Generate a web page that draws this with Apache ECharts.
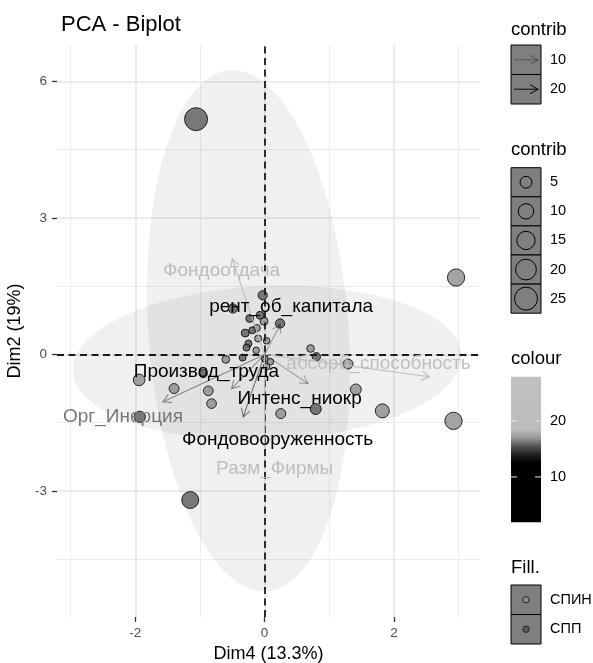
<!DOCTYPE html>
<html><head><meta charset="utf-8">
<script src="https://cdn.jsdelivr.net/npm/echarts@6/dist/echarts.min.js"></script>
<style>html,body{margin:0;padding:0;background:#fff}#c{width:593px;height:663px}</style>
</head><body><div id="c"></div>
<script>
const FONT = '"Liberation Sans", Arial, Helvetica, sans-serif';

// ---------- individuals ----------
const indX = [2.96, 2.92, 1.82, 1.41, 1.29, 0.71, 0.25, -0.01, -0.12, -0.10, 0.03, -0.13, -0.60, 0.00, 0.09, 0.03, -1.94, -1.40, -0.87, -0.82,
              -1.06, -1.15, 0.80, 0.79, -0.03, 0.24, -0.49, -0.23, -0.07, -0.30, -0.19, -0.25, -0.28, -0.34, -1.93, -0.95];
const indY = [1.69, -1.46, -1.24, -0.77, -0.21, 0.13, -1.30, 0.73, 0.58, 0.35, 0.30, 0.09, -0.11, -0.10, -0.16, -0.27, -0.56, -0.75, -0.80, -1.08,
              5.17, -3.20, -0.05, -1.20, 1.30, 0.68, 1.01, 0.79, 0.86, 0.47, 0.53, 0.24, 0.15, -0.07, -1.37, -0.42];
const indContrib = [13.2, 13.2, 7.9, 4.0, 2.9, 0.8, 2.9, 1.0, 0.3, 0.3, 0, 0, 0.8, 0, 0, 0, 4.8, 2.9, 2.6, 2.6,
                    25, 12.6, 1.3, 4.0, 2.2, 2.2, 2.2, 1.0, 1.0, 1.0, 0.3, 0.3, 0.3, 0.3, 4.3, 1.3];
const indGroup = ['СПИН','СПИН','СПИН','СПИН','СПИН','СПИН','СПИН','СПИН','СПИН','СПИН','СПИН','СПИН','СПИН','СПИН','СПИН','СПИН','СПИН','СПИН','СПИН','СПИН',
                  'СПП','СПП','СПП','СПП','СПП','СПП','СПП','СПП','СПП','СПП','СПП','СПП','СПП','СПП','СПП','СПП'];

// ---------- variables ----------
const varNames = ['Фондоотдача','рент_об_капитала','Производ_труда','абсорб_способность','Орг_Инерция','Интенс_ниокр','Фондовооруженность','Разм_Фирмы'];
const varX = [-0.50, 0.24, -0.51, 2.55, -1.57, 0.67, -0.33, 0.00];
const varY = [2.10, 0.66, -0.75, -0.49, -1.04, -0.64, -1.37, -2.03];
const varColourValue = [20, 5, 10, 24, 16.25, 8, 7, 23];
const varContrib = [22.3, 10.5, 11.3, 25, 21.5, 9.8, 13.4, 25];
const varLabelX = [-0.665, 0.41, -0.90, 1.76, -2.19, 0.54, 0.20, 0.155];
const varLabelY = [1.84, 1.05, -0.38, -0.20, -1.37, -0.97, -1.88, -2.51];

// ---------- group ellipses (centre, two semi-axis vectors, data units) ----------
const ellipseGroups = ['СПИН', 'СПП'];
const ellipseCenter = [[0.04, -0.19], [-0.25, 0.52]];
const ellipseAxisU = [[3.006, 0.176], [-0.286, 5.725]];
const ellipseAxisV = [[0.05, -1.69], [1.542, 0.156]];

// ---------- axes ----------
const xRange = [-3.21, 3.33];
const yRange = [-5.77, 6.80];
const xMajor = [-2, 0, 2];
const yMajor = [-3, 0, 3, 6];
const xMinor = [-3, -1, 1, 3];
const yMinor = [-4.5, -1.5, 1.5, 4.5];

// ---------- legend breaks ----------
const alphaBreaks = [10, 20];
const sizeBreaks = [5, 10, 15, 20, 25];
const colourBreaks = [10, 20];
const colourLimits = [1.9, 27.9];

// ---------- scales ----------
const groupFill = {'СПИН': '#8c8c8c', 'СПП': '#5a5a5a'};
function sizeScale(v){ return 2 * Math.sqrt(10.9 + 4.85 * Math.max(v, 0)); }
function alphaScale(v){ return Math.min(1, Math.max(0.1, 0.1 + 0.9 * (v - 6) / 19.1)); }
const greyStops = [[1.9,0],[12.5,0],[14,34],[15.5,85],[17,153],[18.5,189],[27.9,192]];
function greyLevel(v){
  if (v <= greyStops[0][0]) return greyStops[0][1];
  for (let i = 1; i < greyStops.length; i++) {
    if (v <= greyStops[i][0]) {
      const a = greyStops[i-1], b = greyStops[i];
      return a[1] + (b[1]-a[1]) * (v - a[0]) / (b[0]-a[0]);
    }
  }
  return greyStops[greyStops.length-1][1];
}
function colourScale(v, alpha){ const g = Math.round(greyLevel(v)); return alpha == null ? `rgb(${g},${g},${g})` : `rgba(${g},${g},${g},${alpha})`; }

const chart = echarts.init(document.getElementById('c'), null, {renderer: 'canvas'});

const gridLineData = []
  .concat(xMinor.map(v => ({xAxis: v, lineStyle: {color: '#ececec', width: 1, type: 'solid'}})))
  .concat(yMinor.map(v => ({yAxis: v, lineStyle: {color: '#ececec', width: 1, type: 'solid'}})))
  .concat(xMajor.map(v => ({xAxis: v, lineStyle: {color: '#e6e6e6', width: 1.6, type: 'solid'}})))
  .concat(yMajor.map(v => ({yAxis: v, lineStyle: {color: '#e6e6e6', width: 1.6, type: 'solid'}})));

function renderEllipse(params, api){
  const i = params.dataIndex;
  const c = ellipseCenter[i], u = ellipseAxisU[i], v = ellipseAxisV[i];
  const pts = [];
  for (let k = 0; k < 180; k++) {
    const t = 2 * Math.PI * k / 180;
    pts.push(api.coord([c[0] + Math.cos(t)*u[0] + Math.sin(t)*v[0], c[1] + Math.cos(t)*u[1] + Math.sin(t)*v[1]]));
  }
  return {type: 'polygon', shape: {points: pts}, style: {fill: 'rgba(128,128,128,0.12)', stroke: null}};
}

function renderArrow(params, api){
  const i = params.dataIndex;
  const p0 = api.coord([0, 0]), p1 = api.coord([varX[i], varY[i]]);
  const ang = Math.atan2(p1[1]-p0[1], p1[0]-p0[0]);
  const L = 9, A = Math.PI / 6;
  const h1 = [p1[0] - L*Math.cos(ang - A), p1[1] - L*Math.sin(ang - A)];
  const h2 = [p1[0] - L*Math.cos(ang + A), p1[1] - L*Math.sin(ang + A)];
  const col = colourScale(varColourValue[i], alphaScale(varContrib[i]));
  return {type: 'group', children: [
    {type: 'line', shape: {x1: p0[0], y1: p0[1], x2: p1[0], y2: p1[1]}, style: {stroke: col, lineWidth: 1.2}},
    {type: 'polyline', shape: {points: [h1, p1, h2]}, style: {stroke: col, lineWidth: 1.2, fill: null}}
  ]};
}

function renderLabel(params, api){
  const i = params.dataIndex;
  const p = api.coord([varLabelX[i], varLabelY[i]]);
  return {type: 'text', x: p[0], y: p[1], style: {text: varNames[i], fill: colourScale(varColourValue[i]), font: `19px ${FONT}`, align: 'center', verticalAlign: 'middle'}};
}

// ---------- legends (graphic) ----------
const LX = 511, KW = 30, LBLX = 550;
const g = [];
function lTitle(t, y){ g.push({type: 'text', x: LX, y: y, style: {text: t, font: `18.5px ${FONT}`, fill: '#000', verticalAlign: 'middle'}}); }
function lLabel(t, y){ g.push({type: 'text', x: LBLX, y: y, style: {text: t, font: `14.5px ${FONT}`, fill: '#000', verticalAlign: 'middle'}}); }
function lBox(y, h){ g.push({type: 'rect', shape: {x: LX, y: y, width: KW, height: h}, style: {fill: '#7f7f7f', stroke: '#000', lineWidth: 1}}); }

// arrows/alpha legend
lTitle('contrib', 30);
alphaBreaks.forEach((b, i) => {
  const y0 = 45 + i * 29.5, cy = y0 + 14.75;
  lBox(y0, 29.5);
  const col = `rgba(0,0,0,${alphaScale(b)})`;
  g.push({type: 'line', shape: {x1: 514, y1: cy, x2: 538, y2: cy}, style: {stroke: col, lineWidth: 1.2}});
  g.push({type: 'polyline', shape: {points: [[530, cy - 4.5], [538, cy], [530, cy + 4.5]]}, style: {stroke: col, lineWidth: 1.2, fill: null}});
  lLabel(String(b), cy);
});

// size legend
lTitle('contrib', 150);
sizeBreaks.forEach((b, i) => {
  const y0 = 167.7 + i * 29.1, cy = y0 + 14.55;
  lBox(y0, 29.1);
  g.push({type: 'circle', shape: {cx: LX + KW/2, cy: cy, r: sizeScale(b)/2}, style: {fill: '#7f7f7f', stroke: '#000', lineWidth: 1}});
  lLabel(String(b), cy);
});

// colour bar
lTitle('colour', 359);
(function(){
  const top = 376.7, h = 145.6;
  const stops = [];
  for (let k = 0; k <= 60; k++) {
    const f = k / 60;
    const v = colourLimits[1] - f * (colourLimits[1] - colourLimits[0]);
    stops.push({offset: f, color: colourScale(v)});
  }
  g.push({type: 'rect', shape: {x: LX, y: top, width: KW, height: h}, style: {fill: {type: 'linear', x: 0, y: 0, x2: 0, y2: 1, colorStops: stops}}});
  colourBreaks.forEach(b => {
    const y = top + (colourLimits[1] - b) / (colourLimits[1] - colourLimits[0]) * h;
    g.push({type: 'line', shape: {x1: LX, y1: y, x2: LX + 6, y2: y}, style: {stroke: '#e6e6e6', lineWidth: 1}});
    g.push({type: 'line', shape: {x1: LX + KW - 6, y1: y, x2: LX + KW, y2: y}, style: {stroke: '#e6e6e6', lineWidth: 1}});
    lLabel(String(b), y);
  });
})();

// fill legend
lTitle('Fill.', 568);
ellipseGroups.forEach((grp, i) => {
  const y0 = 585 + i * 29.5, cy = y0 + 14.75;
  lBox(y0, 29.5);
  g.push({type: 'circle', shape: {cx: LX + KW/2, cy: cy, r: 3.2}, style: {fill: groupFill[grp], stroke: '#222', lineWidth: 1}});
  lLabel(grp, cy);
});

const option = {
  animation: false,
  backgroundColor: '#fff',
  textStyle: {fontFamily: FONT},
  title: {text: 'PCA - Biplot', left: 56, top: 9, textStyle: {fontSize: 22, fontWeight: 'normal', color: '#000', fontFamily: FONT}},
  grid: {left: 57, right: 113, top: 45, bottom: 46, containLabel: false, outerBoundsMode: 'none'},
  xAxis: {
    type: 'value', min: xRange[0], max: xRange[1],
    splitLine: {show: false},
    axisLine: {show: true, onZero: false, lineStyle: {color: 'rgba(0,0,0,0)'}},
    axisTick: {show: true, customValues: xMajor, length: 5, lineStyle: {color: '#333', width: 1.3}},
    axisLabel: {customValues: xMajor, color: '#4d4d4d', fontSize: 13.5, margin: 9, fontFamily: FONT},
    name: 'Dim4 (13.3%)', nameLocation: 'middle', nameGap: 26,
    nameTextStyle: {fontSize: 18, color: '#000', fontFamily: FONT}
  },
  yAxis: {
    type: 'value', min: yRange[0], max: yRange[1],
    splitLine: {show: false},
    axisLine: {show: true, onZero: false, lineStyle: {color: 'rgba(0,0,0,0)'}},
    axisTick: {show: true, customValues: yMajor, length: 5, lineStyle: {color: '#333', width: 1.3}},
    axisLabel: {customValues: yMajor, color: '#4d4d4d', fontSize: 13.5, margin: 10, fontFamily: FONT},
    name: 'Dim2 (19%)', nameLocation: 'middle', nameGap: 28,
    nameTextStyle: {fontSize: 18, color: '#000', fontFamily: FONT}
  },
  series: [
    {
      type: 'custom', name: 'ellipses', z: 2, silent: true, clip: true,
      renderItem: renderEllipse,
      data: ellipseCenter.map(c => [c[0], c[1]]),
      encode: {x: 0, y: 1},
      markLine: {silent: true, symbol: 'none', z: 1, label: {show: false}, data: gridLineData}
    },
    {
      type: 'scatter', name: 'individuals', z: 3, silent: true,
      data: indX.map((x, i) => ({
        value: [x, indY[i]],
        symbolSize: sizeScale(indContrib[i]),
        itemStyle: {color: groupFill[indGroup[i]], borderColor: '#000', borderWidth: 1}
      })),
      markLine: {silent: true, symbol: 'none', z: 4, label: {show: false},
        lineStyle: {color: '#1a1a1a', width: 1.8, type: [7, 4.5]},
        data: [{xAxis: 0}, {yAxis: 0}]}
    },
    {
      type: 'custom', name: 'arrows', z: 5, silent: true,
      renderItem: renderArrow,
      data: varX.map((x, i) => [x, varY[i]]),
      encode: {x: 0, y: 1}
    },
    {
      type: 'custom', name: 'labels', z: 6, silent: true,
      renderItem: renderLabel,
      data: varLabelX.map((x, i) => [x, varLabelY[i]]),
      encode: {x: 0, y: 1}
    }
  ],
  graphic: {elements: g}
};
chart.setOption(option);
</script>
</body></html>
